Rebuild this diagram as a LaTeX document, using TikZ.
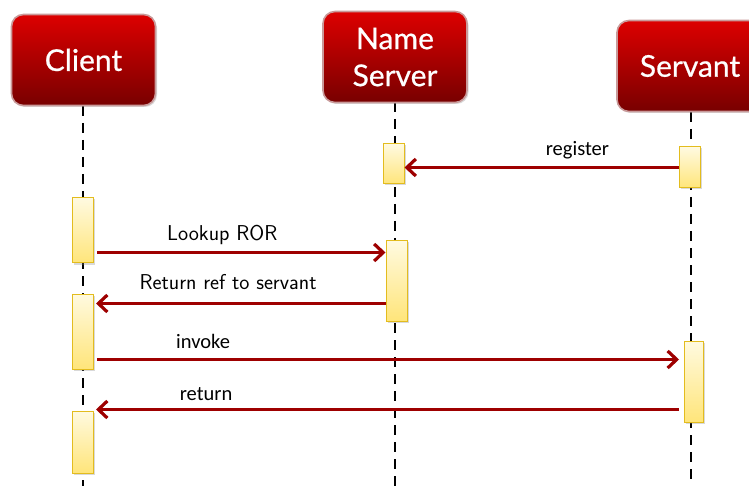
\documentclass[tikz,border=0pt]{standalone}
\usepackage{fontspec}
\usepackage{xcolor}
\usetikzlibrary{arrows.meta,shadows}

\newfontfamily\titlefont[FakeBold=0.6]{Lato}
\newfontfamily\msgfont{Carlito}

\definecolor{boxtop}{HTML}{DD0000}
\definecolor{boxbottom}{HTML}{780000}
\definecolor{boxrim}{HTML}{C99A9A}
\definecolor{acttop}{HTML}{FFFAE0}
\definecolor{actbottom}{HTML}{FFE57A}
\definecolor{actrim}{HTML}{E3BC1E}
\definecolor{msgred}{HTML}{9E0000}

\begin{document}
\begin{tikzpicture}[
            x = 1pt, y = -1pt, % pixel grid, y grows downwards
            actor/.style = {draw=boxrim, line width=1.6pt, rounded corners=12pt,
                top color=boxtop, bottom color=boxbottom, text=white,
                font=\titlefont\fontsize{30}{40}\selectfont, align=center,
                minimum width=144pt, minimum height=91pt,
                drop shadow={shadow xshift=1.5pt, shadow yshift=-1.5pt, opacity=0.3}},
            act/.style = {draw=actrim, line width=1pt, top color=acttop,
                bottom color=actbottom, minimum width=21pt, inner sep=0pt,
                drop shadow={shadow xshift=1.5pt, shadow yshift=-1.5pt, opacity=0.3}},
            lifeline/.style = {line width=2.8pt, dash pattern=on 10pt off 7pt},
            msg/.style = {draw=msgred, line width=3.2pt,
                -{Straight Barb[length=9pt, width=17pt]}}, % message arrow
            lbl/.style = {text=black, inner sep=3pt, above, yshift=4pt}
        ]
\useasboundingbox (0,0) rectangle (749,486);
\coordinate (bottom) at (0,486);

% lifelines go first, behind everything
\coordinate (cl) at (83,106);
\coordinate (nl) at (395,102);
\coordinate (sl) at (691,112);
\draw[lifeline] (cl) -- (cl |- bottom);
\draw[lifeline] (nl) -- (nl |- bottom);
\draw[lifeline] (sl) -- (sl |- bottom);

% actors
\node[actor] (client) at (83.5,60) {Client};
\node[actor] (nameserver) at (395,57) {Name\\[-3pt]Server};
\node[actor, minimum width=146pt] (servant) at (690,66) {Servant};

% activations
\node[act, minimum height=40pt] (ns1) at (393.5,164) {};
\node[act, minimum height=41pt] (sv1) at (690,167.5) {};
\node[act, minimum height=65pt] (c1) at (83,230.5) {};
\node[act, minimum height=80pt] (ns2) at (396.5,281) {};
\node[act, minimum height=75pt] (c2) at (83,331.5) {};
\node[act, minimum width=19pt, minimum height=81pt] (sv2) at (694,381.5) {};
\node[act, minimum height=62pt] (c3) at (83,442) {};

% messages
\path (sv1.west) edge[msg] node[lbl, pos=0.37] {\msgfont\fontsize{20.5}{24}\selectfont register} (sv1.west -| ns1.east);
\path ([yshift=11pt]c1.south east) edge[msg, shorten <=3pt] node[lbl, pos=0.44, yshift=-1pt] {\sffamily\fontsize{21.5}{25}\selectfont Lookup ROR} ([yshift=11pt]c1.south east -| ns2.west);
\path ([yshift=-10pt]c2.north east -| ns2.west) edge[msg, shorten >=2pt] node[lbl, pos=0.54, yshift=5pt] {\sffamily\fontsize{21.5}{25}\selectfont Return ref to servant} ([yshift=-10pt]c2.north east);
\path ([yshift=10pt]c2.south east) edge[msg, shorten <=3pt, shorten >=5pt] node[lbl, pos=0.185, yshift=2pt] {\msgfont\fontsize{20.5}{24}\selectfont invoke} ([yshift=10pt]c2.south east -| sv2.west);
\path ([yshift=1pt]c3.north east -| sv2.west) edge[msg, shorten <=5pt, shorten >=2pt] node[lbl, pos=0.81] {\msgfont\fontsize{20.5}{24}\selectfont return} ([yshift=1pt]c3.north east);
\end{tikzpicture}
\end{document}
